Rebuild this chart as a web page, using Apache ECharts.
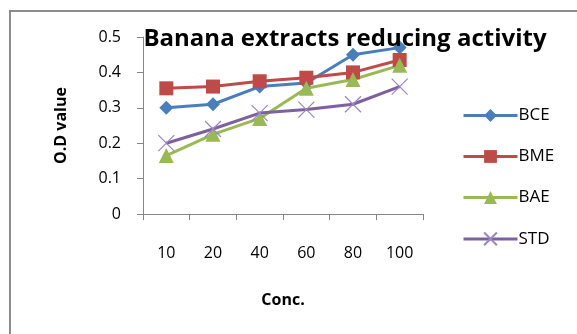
<!DOCTYPE html>
<html>
<head>
<meta charset="utf-8">
<script src="https://cdn.jsdelivr.net/npm/echarts@6/dist/echarts.min.js"></script>
<style>
  html, body { margin: 0; padding: 0; background: #fff; }
  #chart { width: 577px; height: 334px; }
</style>
</head>
<body>
<div id="chart"></div>
<script>
const categories = ['10', '20', '40', '60', '80', '100'];
const bce = [0.30, 0.31, 0.36, 0.37, 0.45, 0.47];
const bme = [0.355, 0.36, 0.375, 0.385, 0.40, 0.435];
const bae = [0.165, 0.225, 0.27, 0.355, 0.38, 0.42];
const std = [0.20, 0.24, 0.285, 0.295, 0.31, 0.36];
const yTicks = [0, 0.1, 0.2, 0.3, 0.4, 0.5];

const font = 'Open Sans, Liberation Sans, sans-serif';

function line(name, data, color, symbol, size) {
    return {
        name: name,
        type: 'line',
        data: data,
        symbol: symbol,
        symbolSize: size,
        itemStyle: { color: color },
        lineStyle: { color: color, width: 3 },
        emphasis: { disabled: true },
        animation: false
    };
}

let stdSeries = line('STD', std, '#7d60a0', 'path://M0,0L10,10M10,0L0,10', 16);
stdSeries.itemStyle = { color: 'none', borderColor: '#9b86c0', borderWidth: 1.2 };

let chart = echarts.init(document.getElementById('chart'));
chart.setOption({
    backgroundColor: '#fff',
    textStyle: { fontFamily: font },
    title: {
        text: 'Banana extracts reducing activity',
        left: 340,
        textAlign: 'center',
        top: 22,
        textStyle: { fontFamily: font, fontSize: 24, fontWeight: 'bold', color: '#000' }
    },
    grid: { left: 143, right: 154, top: 37, bottom: 120 },
    legend: {
        orient: 'vertical',
        left: 457,
        top: 102,
        itemGap: 24,
        itemWidth: 54,
        itemHeight: 16,
        lineStyle: { width: 3 },
        data: ['BCE', 'BME', 'BAE', 'STD'],
        textStyle: { fontFamily: font, fontSize: 17, color: '#000', padding: [0, 0, 0, -4] }
    },
    xAxis: {
        type: 'category',
        data: categories,
        name: 'Conc.',
        nameLocation: 'middle',
        nameGap: 78,
        nameTextStyle: { fontFamily: font, fontSize: 16, fontWeight: 'bold', color: '#000' },
        axisLine: { lineStyle: { color: '#868686', width: 1 } },
        axisTick: { show: true, length: 6, lineStyle: { color: '#868686' } },
        axisLabel: { margin: 31, fontSize: 16, color: '#000', fontFamily: font }
    },
    yAxis: {
        type: 'value',
        min: yTicks[0],
        max: yTicks[yTicks.length - 1],
        interval: 0.1,
        name: 'O.D value',
        nameLocation: 'middle',
        nameGap: 74,
        nameTextStyle: { fontFamily: font, fontSize: 16, fontWeight: 'bold', color: '#000' },
        splitLine: { show: false },
        axisLine: { show: true, lineStyle: { color: '#868686' } },
        axisTick: { show: true, length: 6, lineStyle: { color: '#868686' } },
        axisLabel: { margin: 22, fontSize: 16, color: '#000', fontFamily: font }
    },
    graphic: [{
        type: 'rect',
        shape: { x: 10, y: 11, width: 700, height: 500 },
        style: { fill: 'none', stroke: '#8c8c8c', lineWidth: 2 },
        silent: true
    }],
    series: [
        line('BCE', bce, '#4a7ebb', 'diamond', 14),
        line('BME', bme, '#be4b48', 'rect', 14),
        line('BAE', bae, '#98b954', 'triangle', 15),
        stdSeries
    ]
});
</script>
</body>
</html>
